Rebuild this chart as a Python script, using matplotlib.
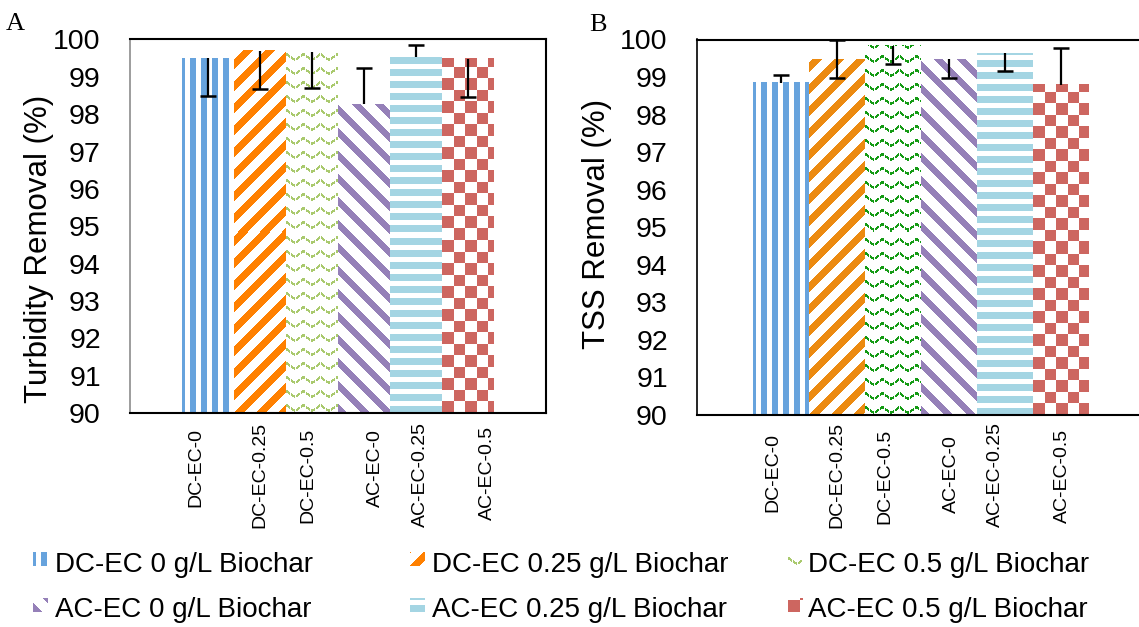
import numpy as np
import matplotlib
matplotlib.use("Agg")
import matplotlib.pyplot as plt
from matplotlib.colors import to_rgb

plt.rcParams['font.family'] = ['Liberation Sans', 'DejaVu Sans']

# ---- data ----
categories = ['DC-EC-0', 'DC-EC-0.25', 'DC-EC-0.5', 'AC-EC-0', 'AC-EC-0.25', 'AC-EC-0.5']
series_names = ['DC-EC 0 g/L Biochar', 'DC-EC 0.25 g/L Biochar', 'DC-EC 0.5 g/L Biochar',
                'AC-EC 0 g/L Biochar', 'AC-EC 0.25 g/L Biochar', 'AC-EC 0.5 g/L Biochar']

turbidity = [99.50, 99.70, 99.67, 98.27, 99.54, 99.48]
turbidity_err_lo = [1.00, 1.03, 0.98, 0.00, 0.00, 1.01]
turbidity_err_hi = [0.00, 0.00, 0.00, 0.96, 0.31, 0.00]

tss = [98.85, 99.48, 99.83, 99.48, 99.63, 98.79]
tss_err_lo = [0.00, 0.50, 0.49, 0.51, 0.47, 0.00]
tss_err_hi = [0.20, 0.50, 0.00, 0.00, 0.00, 0.98]

y_ticks = list(range(90, 101))

# ---- styles ----
patterns = ['vstripe', 'diag_up', 'wave', 'diag_down', 'hstripe', 'checker']
colors_a = ['#67A3DD', '#FF8000', '#A9C96D', '#9580B8', '#A4D5E3', '#CD6660']
colors_b = ['#67A3DD', '#EC8A10', '#149A14', '#9580B8', '#A4D5E3', '#CD6660']

W, H = 1139, 627
fig = plt.figure(figsize=(W / 100, H / 100), dpi=100)


def place(left, top, right, bottom):
    return fig.add_axes([left / W, 1 - bottom / H, (right - left) / W, (bottom - top) / H])


def fx(x):
    return x / W


def fy(y):
    return 1 - y / H


def make_texture(kind, color, w, h):
    rows, cols = np.mgrid[0:h, 0:w]
    up = h - 1 - rows
    if kind == 'vstripe':
        fg = (cols + 3) % 11 < 6
    elif kind == 'diag_up':
        fg = (cols - up) % 22 < 10
    elif kind == 'diag_down':
        fg = (cols + up) % 23 < 9
    elif kind == 'hstripe':
        fg = up % 12 < 7
    elif kind == 'checker':
        fg = (np.floor(cols / 11.5) + np.floor(up / 11.5)) % 2 == 0
    else:  # zigzag wave
        tri = np.abs((cols / 17.0) % 1.0 - 0.5) * 2
        d = (up - tri * 6) % 14
        fg = (d < 2.8) & (cols % 5 != 4)
    img = np.ones((h, w, 3))
    img[fg] = to_rgb(color)
    return img


def draw_panel(ax, values, err_lo, err_hi, colors, ylabel, ylabel_xy, left_spine):
    x = np.arange(len(values)) + 1.5
    ax.set_xlim(0, len(values) + 2)
    ax.set_ylim(90, 100)
    bars = ax.bar(x, values, width=1.0, color='none', linewidth=0, zorder=1)
    ymin = ax.get_ylim()[0]
    for bar, kind, col in zip(bars, patterns, colors):
        x0, x1 = bar.get_x(), bar.get_x() + bar.get_width()
        top = bar.get_height()
        p0 = ax.transData.transform((x0, ymin))
        p1 = ax.transData.transform((x1, top))
        w = int(round(p1[0] - p0[0]))
        h = int(round(p1[1] - p0[1]))
        ax.imshow(make_texture(kind, col, w, h), extent=(x0, x1, ymin, top),
                  origin='upper', interpolation='nearest', aspect='auto', zorder=2)
    ax.set_xlim(0, len(values) + 2)
    ax.set_ylim(90, 100)

    # one-sided / two-sided error bars
    vals = np.array(values)
    lo = vals - np.array(err_lo)
    hi = vals + np.array(err_hi)
    ax.vlines(x, lo, hi, color='black', linewidth=1.6, zorder=3)
    m_lo = np.array(err_lo) > 0
    m_hi = np.array(err_hi) > 0
    ax.plot(x[m_lo], lo[m_lo], ls='none', marker='_', ms=12, mew=1.8, color='black', zorder=3)
    ax.plot(x[m_hi], hi[m_hi], ls='none', marker='_', ms=12, mew=1.8, color='black', zorder=3)

    ax.set_xticks([])
    ax.set_yticks(y_ticks)
    ax.set_yticklabels([str(t) for t in y_ticks], fontsize=20.5)
    ax.tick_params(axis='y', length=0, pad=21)
    for side in ['top', 'bottom', 'right']:
        ax.spines[side].set_linewidth(1.5)
        ax.spines[side].set_color('black')
    ax.spines['left'].set_linewidth(1.2)
    ax.spines['left'].set_color(left_spine)

    fig.text(fx(ylabel_xy[0]), fy(ylabel_xy[1]), ylabel, rotation=90, rotation_mode='anchor',
             ha='center', va='baseline', fontsize=22.5)


axA = place(130, 39.5, 546, 413)
axB = place(697, 39.5, 1145, 415)

draw_panel(axA, turbidity, turbidity_err_lo, turbidity_err_hi, colors_a,
           'Turbidity Removal (%)', (47, 249), '#8C8C8C')
draw_panel(axB, tss, tss_err_lo, tss_err_hi, colors_b,
           'TSS Removal (%)', (605, 224), 'black')

# panel letters
fig.text(fx(6), fy(30), 'A', family=['Liberation Serif', 'DejaVu Serif'], fontsize=19, va='baseline')
fig.text(fx(589), fy(31), 'B', family=['Liberation Serif', 'DejaVu Serif'], fontsize=19, va='baseline')

# rotated category labels under each panel
label_x_a = [196, 260, 307.5, 375, 420.5, 487.5]
label_top_a = [428, 421.7, 428, 429, 421.7, 426]
label_x_b = [772.5, 837, 884.5, 951.5, 995, 1062.5]
label_top_b = [433, 421.7, 429, 435, 421.7, 429]
for xs, tops in [(label_x_a, label_top_a), (label_x_b, label_top_b)]:
    for name, lx, lt in zip(categories, xs, tops):
        fig.text(fx(lx), fy(lt), name, rotation=90, rotation_mode='anchor',
                 ha='right', va='center', fontsize=14)

# legend: 2 rows x 3 columns with pattern swatches
key_x = [33, 410, 788]
text_x = [55, 432, 808]
key_top = [552, 598]
text_base = [572, 617]
for i, (name, kind, col) in enumerate(zip(series_names, patterns, colors_a)):
    r, c = divmod(i, 3)
    kax = place(key_x[c], key_top[r], key_x[c] + 15, key_top[r] + 14)
    kax.imshow(make_texture(kind, col, 15, 14), interpolation='nearest', aspect='auto')
    kax.axis('off')
    fig.text(fx(text_x[c]), fy(text_base[r]), name, fontsize=20, va='baseline')

fig.savefig('out.png', dpi=100)
